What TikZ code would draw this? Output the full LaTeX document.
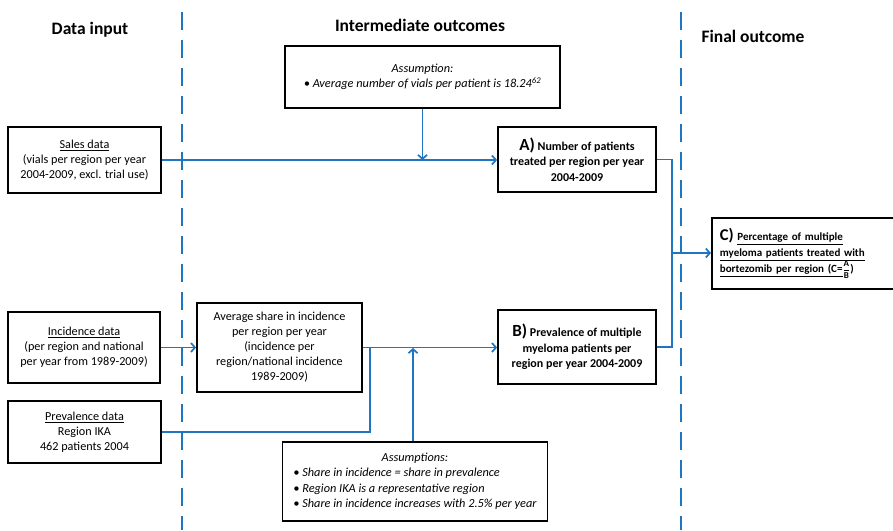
\documentclass[tikz,border=0pt]{standalone}
\usepackage{fontspec}
\setmainfont{Carlito}
\usetikzlibrary{arrows.meta}
\definecolor{flowblue}{RGB}{31,118,192}
\begin{document}
\begin{tikzpicture}[x=1pt,y=-1pt,
    box/.style={draw=black,line width=1.8pt,align=center,inner sep=2pt,font=\fontsize{12.2}{15}\selectfont},
    bold box/.style={box,font=\fontsize{12}{15.5}\selectfont\bfseries},
    note/.style={box,font=\fontsize{12.3}{15.5}\selectfont\itshape},
    link/.style={draw=flowblue,line width=1.7pt},
    arr/.style={link,-{Straight Barb[length=4pt,width=9pt]}},
    lane/.style={draw=flowblue,line width=2pt,dash pattern=on 18pt off 10pt},
    head/.style={font=\fontsize{17.5}{19}\selectfont\bfseries}]
    \useasboundingbox (0,0) rectangle (893,530);
    % columns
    \draw[lane] (182,12) -- (182,530);
    \draw[lane] (681,12) -- (681,530);
    \node[head] (hdin) at (90,30) {Data input};
    \node[head] (hdmid) at (420,25) {Intermediate outcomes};
    \node[head] (hdfin) at (753,36) {Final outcome};
    % data input
    \node[box,minimum width=153pt,minimum height=66pt] (sales) at (84.5,160) {\underline{Sales data}\\(vials per region per year\\2004-2009, excl. trial use)};
    \node[box,minimum width=152pt,minimum height=71pt] (inc) at (84,347.5) {\underline{Incidence data}\\(per region and national\\per year from 1989-2009)};
    \node[box,minimum width=153pt,minimum height=62pt] (prev) at (84.5,432) {\underline{Prevalence data}\\Region IKA\\462 patients 2004};
    % intermediate outcomes
    \node[note,minimum width=275pt,minimum height=62pt] (assum) at (422.5,77) {Assumption:\\\textbullet\ Average number of vials per patient is 18.24\textsuperscript{62}};
    \node[box,minimum width=165pt,minimum height=89pt] (avg) at (279.5,347.5) {Average share in incidence\\per region per year\\(incidence per\\region/national incidence\\1989-2009)};
    \node[note,minimum width=265pt,minimum height=79pt] (assums) at (415,481.5) {\begin{tabular}{@{}l@{}}\multicolumn{1}{c}{Assumptions:}\\
        \textbullet\ Share in incidence = share in prevalence\\
        \textbullet\ Region IKA is a representative region\\
        \textbullet\ Share in incidence increases with 2.5\% per year\end{tabular}};
    \node[bold box,minimum width=158pt,minimum height=65pt] (nA) at (577,159.5) {{\fontsize{17}{15}\selectfont A)} Number of patients\\treated per region per year\\2004-2009};
    \node[bold box,minimum width=158pt,minimum height=74pt] (nB) at (577,347) {{\fontsize{17}{15}\selectfont B)} Prevalence of multiple\\myeloma patients per\\region per year 2004-2009};
    % final outcome
    \node[bold box,align=left,anchor=west,text width=175pt,minimum height=71pt,inner xsep=8pt,font=\fontsize{11}{16}\selectfont\bfseries] (nC) at (711,253.5) {{\fontsize{16.5}{15}\selectfont C)} \underline{Percentage of multiple}\\\underline{myeloma patients treated with}\\\underline{bortezomib per region (C=}{\fontsize{9}{9}\selectfont$\displaystyle\frac{\mbox{A}}{\mbox{B}}$})};
    % connectors
    \coordinate (jn) at (672,253);
    \coordinate (kn) at (370,348);
    \draw[arr] (sales.east) -- (sales.east -| nA.west);
    \draw[arr] (assum.south) -- (assum.south |- sales.east);
    \draw[arr] (inc.east) -- (inc.east -| avg.west);
    \draw[arr] (avg.east) -- (avg.east -| nB.west);
    \draw[link] (prev.east) -| (kn);
    \draw[arr] (assums.north -| 413,0) -- (413,348);
    \draw[link] (nA.east) -| (jn) |- (nB.east);
    \draw[arr] (jn) -- (jn -| nC.west);
\end{tikzpicture}
\end{document}
